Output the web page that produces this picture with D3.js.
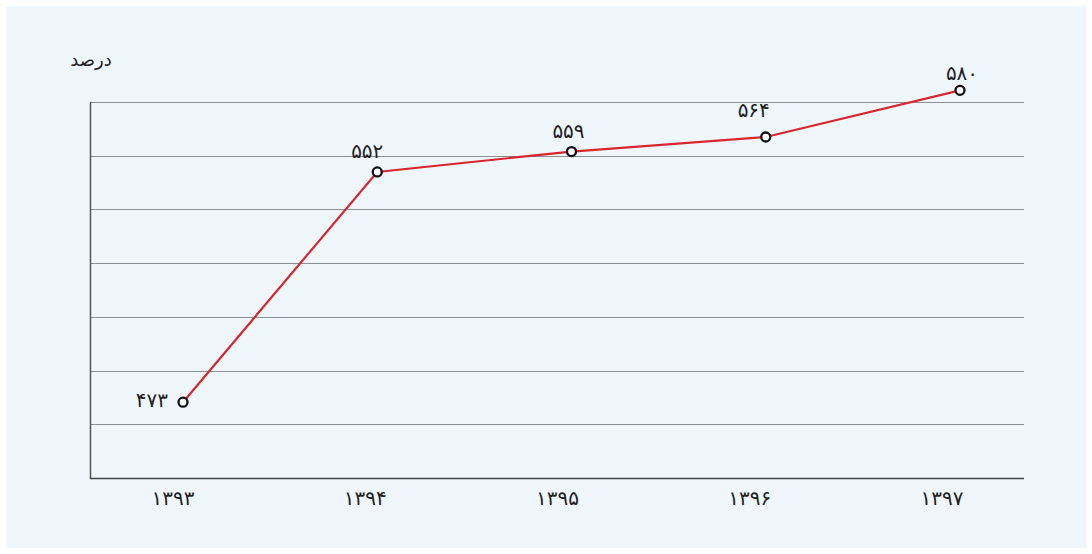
<!DOCTYPE html>
<html>
<head>
<meta charset="utf-8">
<script src="https://cdn.jsdelivr.net/npm/d3@7"></script>
<style>
  body { margin: 0; background: #ffffff; }
  svg text { font-family: "DejaVu Sans", "Noto Sans", sans-serif; }
</style>
</head>
<body>
<div id="graphicContainer"></div>
<script>
// data
const years = ["۱۳۹۳", "۱۳۹۴", "۱۳۹۵", "۱۳۹۶", "۱۳۹۷"]
const values = [473, 552, 559, 564, 580]
const valueLabels = ["۴۷۳", "۵۵۲", "۵۵۹", "۵۶۴", "۵۸۰"]
const yTitle = "درصد"

// label nudges (dx, dy, anchor) relative to each point
const labelNudge = [
  [-15, 5, "end"],
  [-10, -14, "middle"],
  [-3, -14, "middle"],
  [-12, -20, "middle"],
  [2, -10, "middle"]
]

const width = 1092
const height = 554

const svg = d3.select("#graphicContainer").append("svg")
  .attr("width", width)
  .attr("height", height)

svg.append("rect")
  .attr("x", 6).attr("y", 6)
  .attr("width", 1080).attr("height", 542)
  .attr("fill", "#f0f7fc")

const x = d3.scalePoint()
  .domain(years)
  .range([183, 960])

// tick labels sit a little left of the points
const xLabel = d3.scalePoint()
  .domain(years)
  .range([173, 942])

const y = d3.scaleLinear()
  .domain([447, 576])
  .range([478, 102])

// gridlines: 8 equally spaced lines
const gridVals = d3.range(8).map(i => 447 + i * (576 - 447) / 7)

svg.append("g")
  .selectAll("line")
  .data(gridVals.slice(1))
  .enter()
  .append("line")
  .attr("x1", 90)
  .attr("x2", 1024)
  .attr("y1", d => Math.round(y(d)) + 0.5)
  .attr("y2", d => Math.round(y(d)) + 0.5)
  .attr("stroke", "#8a8f93")
  .attr("stroke-width", 1)

// axes
svg.append("line")
  .attr("x1", 90.5).attr("x2", 90.5)
  .attr("y1", 102).attr("y2", 478.5)
  .attr("stroke", "#555").attr("stroke-width", 1.5)

svg.append("line")
  .attr("x1", 90).attr("x2", 1024)
  .attr("y1", 478.5).attr("y2", 478.5)
  .attr("stroke", "#444").attr("stroke-width", 1.5)

svg.append("g")
  .selectAll("text")
  .data(years)
  .enter()
  .append("text")
  .attr("x", d => xLabel(d))
  .attr("y", 505)
  .attr("text-anchor", "middle")
  .attr("font-size", 20)
  .attr("fill", "#222")
  .text(d => d)

svg.append("text")
  .attr("x", 91)
  .attr("y", 66)
  .attr("text-anchor", "middle")
  .attr("font-size", 18)
  .attr("fill", "#222")
  .text(yTitle)

const line = d3.line()
  .x((d, i) => x(years[i]))
  .y(d => y(d))

svg.append("path")
  .datum(values)
  .attr("d", line)
  .attr("fill", "none")
  .attr("stroke", "#d7262e")
  .attr("stroke-width", 2.2)

svg.append("g")
  .selectAll("circle")
  .data(values)
  .enter()
  .append("circle")
  .attr("cx", (d, i) => x(years[i]))
  .attr("cy", d => y(d))
  .attr("r", 4.5)
  .attr("fill", "#ffffff")
  .attr("stroke", "#111")
  .attr("stroke-width", 2.3)

svg.append("g")
  .selectAll("text")
  .data(values)
  .enter()
  .append("text")
  .attr("x", (d, i) => x(years[i]) + labelNudge[i][0])
  .attr("y", (d, i) => y(d) + labelNudge[i][1])
  .attr("text-anchor", (d, i) => labelNudge[i][2])
  .attr("font-size", 20)
  .attr("fill", "#222")
  .text((d, i) => valueLabels[i])
</script>
</body>
</html>
